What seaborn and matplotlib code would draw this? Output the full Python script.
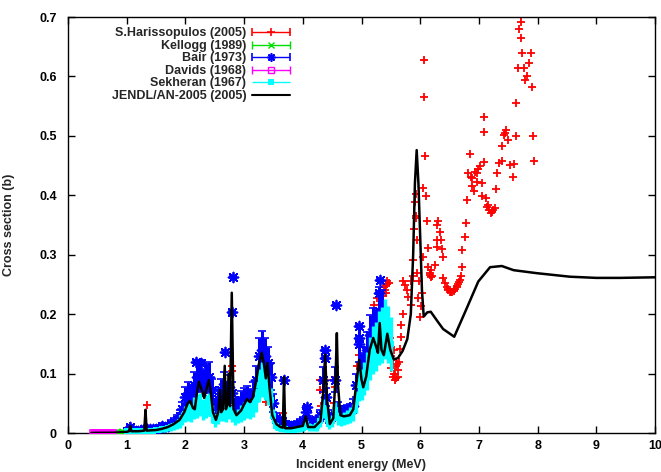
import numpy as np
import matplotlib
matplotlib.use("Agg")
import matplotlib.pyplot as plt
from matplotlib.container import ErrorbarContainer
from matplotlib.legend_handler import HandlerErrorbar
import seaborn as sns
import pandas as pd

# ---------------- data ----------------
# JENDL/AN-2005 evaluation (E in MeV, sigma in b)
jendl_e = [0.40, 0.80, 1.00, 1.04, 1.06, 1.08, 1.20, 1.30, 1.32, 1.34, 1.50, 1.60, 1.70, 1.80,
           1.90, 1.98, 2.04, 2.08, 2.13, 2.16, 2.20, 2.23, 2.27, 2.32, 2.36, 2.40, 2.43, 2.47,
           2.52, 2.56, 2.59, 2.61, 2.64, 2.67, 2.69, 2.72, 2.74, 2.76, 2.79, 2.82, 2.87, 2.95,
           3.00, 3.05, 3.10, 3.15, 3.20, 3.25, 3.30, 3.34, 3.37, 3.40, 3.43, 3.48, 3.55, 3.62,
           3.66, 3.68, 3.70, 3.80, 3.90, 4.00, 4.05, 4.09, 4.20, 4.30, 4.35, 4.38, 4.41, 4.46,
           4.52, 4.56, 4.58, 4.60, 4.64, 4.70, 4.80, 4.86, 4.92, 4.96, 5.00, 5.03, 5.08, 5.14,
           5.20, 5.25, 5.28, 5.31, 5.34, 5.38, 5.44, 5.49, 5.55, 5.62, 5.70, 5.78, 5.84, 5.88,
           5.91, 5.94, 5.97, 6.00, 6.03, 6.06, 6.12, 6.18, 6.28, 6.39, 6.58, 6.78, 6.99, 7.19,
           7.39, 7.59, 7.98, 8.55, 9.00, 9.40, 10.00]
jendl_s = [0.0002, 0.0005, 0.002, 0.003, 0.012, 0.003, 0.003, 0.004, 0.039, 0.004, 0.005, 0.007, 0.010, 0.015,
           0.022, 0.035, 0.050, 0.054, 0.042, 0.040, 0.070, 0.086, 0.075, 0.059, 0.075, 0.089, 0.070, 0.035,
           0.022, 0.035, 0.072, 0.035, 0.040, 0.113, 0.040, 0.050, 0.100, 0.045, 0.236, 0.040, 0.030, 0.038,
           0.048, 0.057, 0.052, 0.060, 0.085, 0.115, 0.135, 0.115, 0.092, 0.118, 0.080, 0.030, 0.015, 0.010,
           0.009, 0.094, 0.008, 0.008, 0.010, 0.012, 0.028, 0.010, 0.010, 0.020, 0.070, 0.132, 0.060, 0.015,
           0.025, 0.100, 0.168, 0.080, 0.030, 0.028, 0.030, 0.040, 0.090, 0.123, 0.090, 0.077, 0.095, 0.140,
           0.160, 0.145, 0.135, 0.185, 0.140, 0.131, 0.167, 0.140, 0.124, 0.126, 0.138, 0.158, 0.200, 0.300,
           0.420, 0.476, 0.420, 0.330, 0.240, 0.196, 0.203, 0.204, 0.190, 0.175, 0.162, 0.207, 0.255, 0.279,
           0.281, 0.274, 0.269, 0.263, 0.261, 0.261, 0.262]

# S.Harissopulos (2005)
har_e = [1.06, 1.25, 1.34, 1.60, 2.79, 2.79, 3.37, 3.67, 4.30, 4.30, 4.31, 4.52, 4.55, 4.53,
         4.75, 4.79, 4.82, 4.85, 4.92, 4.95, 4.97, 5.22, 5.26, 5.27, 5.36, 5.38, 5.40, 5.42, 5.42,
         5.43, 5.44, 5.46, 5.48, 5.50, 5.51, 5.53, 5.54, 5.55, 5.56, 5.57, 5.57, 5.58, 5.59, 5.60,
         5.62, 5.63, 5.64, 5.66, 5.68, 5.68, 5.70, 5.71, 5.74, 5.77, 5.80, 5.84, 5.85, 5.87, 5.88,
         5.89, 5.91, 5.92, 5.92, 5.93, 5.95, 5.95, 5.97, 5.98, 6.00, 6.01, 6.03, 6.04, 6.05, 6.07,
         6.07, 6.09, 6.10, 6.12, 6.13, 6.14, 6.16, 6.17, 6.18, 6.19, 6.20, 6.25, 6.28, 6.29, 6.29,
         6.30, 6.33, 6.36, 6.37, 6.38, 6.39, 6.42, 6.45, 6.47, 6.48, 6.50, 6.52, 6.53, 6.55, 6.57,
         6.58, 6.60, 6.62, 6.63, 6.64, 6.66, 6.68, 6.70, 6.71, 6.72, 6.76, 6.78, 6.80, 6.82, 6.84,
         6.87, 6.89, 6.89, 6.92, 6.93, 6.96, 6.96, 6.99, 7.02, 7.05, 7.05, 7.09, 7.09, 7.09, 7.12,
         7.14, 7.16, 7.18, 7.20, 7.22, 7.24, 7.27, 7.29, 7.30, 7.35, 7.39, 7.40, 7.42, 7.44, 7.46,
         7.50, 7.53, 7.58, 7.59, 7.63, 7.64, 7.66, 7.68, 7.71, 7.72, 7.74, 7.77, 7.79, 7.82, 7.86,
         7.88, 7.90, 7.92, 7.94]
har_s = [0.011, 0.004, 0.047, 0.012, 0.112, 0.104, 0.053, 0.033, 0.089, 0.072, 0.046, 0.089, 0.077, 0.050,
         0.035, 0.030, 0.040, 0.033, 0.112, 0.131, 0.100, 0.215, 0.201, 0.227, 0.230, 0.245, 0.240, 0.236, 0.249,
         0.250, 0.255, 0.252, 0.160, 0.130, 0.110, 0.123, 0.095, 0.100, 0.140, 0.100, 0.089, 0.092, 0.112, 0.116,
         0.095, 0.106, 0.120, 0.141, 0.162, 0.182, 0.201, 0.255, 0.249, 0.241, 0.229, 0.215, 0.255, 0.264, 0.291,
         0.344, 0.388, 0.402, 0.365, 0.361, 0.325, 0.270, 0.227, 0.255, 0.196, 0.213, 0.235, 0.296, 0.412, 0.628,
         0.565, 0.466, 0.399, 0.357, 0.312, 0.280, 0.270, 0.266, 0.262, 0.275, 0.265, 0.283, 0.350, 0.325, 0.313,
         0.356, 0.339, 0.325, 0.309, 0.296, 0.260, 0.252, 0.245, 0.242, 0.240, 0.238, 0.237, 0.237, 0.238, 0.239,
         0.240, 0.243, 0.246, 0.248, 0.250, 0.254, 0.257, 0.265, 0.280, 0.308, 0.329, 0.353, 0.392, 0.438, 0.469,
         0.430, 0.429, 0.416, 0.408, 0.440, 0.437, 0.423, 0.445, 0.450, 0.421, 0.398, 0.456, 0.531, 0.507, 0.395,
         0.380, 0.384, 0.375, 0.370, 0.372, 0.376, 0.378, 0.411, 0.437, 0.454, 0.457, 0.483, 0.501, 0.505, 0.510,
         0.493, 0.451, 0.431, 0.452, 0.499, 0.555, 0.614, 0.680, 0.691, 0.664, 0.639, 0.614, 0.594, 0.600, 0.623,
         0.640, 0.583, 0.500, 0.458]

# Kellogg (1989)
kel_e = [0.76, 0.78, 0.80, 0.82, 0.84, 0.86, 0.88, 0.90, 0.92, 0.94]
kel_s = [0.0005, 0.0005, 0.0006, 0.0006, 0.0007, 0.0007, 0.0008, 0.0008, 0.0009, 0.0010]
kel_err = [0.0005, 0.0005, 0.0005, 0.0005, 0.0005, 0.0005, 0.0005, 0.0005, 0.0005, 0.0005]

# Bair (1973)
bair_e = [1.00, 1.05, 1.10, 1.15, 1.20, 1.25, 1.30, 1.35, 1.40, 1.45, 1.50, 1.55, 1.60, 1.65,
          1.70, 1.75, 1.80, 1.85, 1.90, 1.95, 2.00, 2.05, 2.10, 2.15, 2.20, 2.25, 2.30, 2.35,
          2.40, 2.45, 2.50, 2.55, 2.60, 2.65, 2.70, 2.75, 2.80, 2.85, 2.90, 2.95, 3.00, 3.05,
          3.10, 3.15, 3.20, 3.25, 3.30, 3.35, 3.40, 3.45, 3.50, 3.55, 3.60, 3.65, 3.70, 3.75,
          3.80, 3.85, 3.90, 3.95, 4.00, 4.05, 4.10, 4.15, 4.20, 4.25, 4.30, 4.35, 4.40, 4.45,
          4.50, 4.55, 4.60, 4.65, 4.70, 4.75, 4.80, 4.85, 4.90, 4.95, 5.00, 5.05, 5.10, 5.15,
          5.20, 5.25, 5.30, 5.35,
          2.81, 2.80, 2.67, 4.57, 5.31, 5.30, 4.38, 4.38, 4.96, 4.96, 3.68, 4.08, 2.18, 2.27]
bair_s = [0.004, 0.010, 0.005, 0.004, 0.004, 0.005, 0.006, 0.007, 0.006, 0.006, 0.007, 0.009, 0.012, 0.010,
          0.012, 0.015, 0.018, 0.022, 0.028, 0.040, 0.060, 0.068, 0.062, 0.080, 0.095, 0.097, 0.085, 0.092,
          0.095, 0.072, 0.045, 0.058, 0.072, 0.082, 0.068, 0.078, 0.068, 0.045, 0.045, 0.055, 0.060, 0.063,
          0.058, 0.068, 0.090, 0.130, 0.140, 0.130, 0.118, 0.095, 0.050, 0.025, 0.018, 0.020, 0.015, 0.012,
          0.012, 0.012, 0.014, 0.016, 0.020, 0.035, 0.022, 0.018, 0.018, 0.020, 0.030, 0.090, 0.060, 0.025,
          0.030, 0.090, 0.040, 0.033, 0.035, 0.037, 0.038, 0.045, 0.080, 0.150, 0.110, 0.120, 0.140, 0.165,
          0.175, 0.172, 0.205, 0.200,
          0.262, 0.203, 0.137, 0.215, 0.257, 0.236, 0.140, 0.126, 0.180, 0.160, 0.089, 0.044, 0.120, 0.118]
bair_err = [0.004, 0.004, 0.004, 0.004, 0.004, 0.004, 0.004, 0.004, 0.004, 0.004, 0.004, 0.005, 0.005, 0.005,
            0.005, 0.007, 0.007, 0.008, 0.010, 0.013, 0.018, 0.018, 0.018, 0.022, 0.026, 0.026, 0.022, 0.024,
            0.024, 0.019, 0.013, 0.016, 0.019, 0.021, 0.018, 0.019, 0.018, 0.013, 0.013, 0.015, 0.016, 0.016,
            0.016, 0.018, 0.022, 0.030, 0.031, 0.030, 0.027, 0.022, 0.015, 0.009, 0.007, 0.007, 0.006, 0.006,
            0.006, 0.006, 0.006, 0.007, 0.007, 0.010, 0.007, 0.007, 0.007, 0.007, 0.009, 0.021, 0.015, 0.009,
            0.009, 0.021, 0.012, 0.010, 0.010, 0.010, 0.010, 0.012, 0.019, 0.030, 0.024, 0.025, 0.030, 0.034,
            0.036, 0.036, 0.040, 0.040,
            0.002, 0.002, 0.002, 0.002, 0.002, 0.002, 0.002, 0.002, 0.002, 0.002, 0.002, 0.002, 0.002, 0.002]

# Davids (1968)
dav_e = [0.43, 0.46, 0.49, 0.52, 0.55, 0.58, 0.61, 0.64, 0.67, 0.70, 0.73, 0.76]
dav_s = [0.0003, 0.0003, 0.0003, 0.0004, 0.0004, 0.0004, 0.0004, 0.0005, 0.0005, 0.0005, 0.0006, 0.0006]
dav_err = [0.0004, 0.0004, 0.0004, 0.0004, 0.0004, 0.0004, 0.0004, 0.0004, 0.0004, 0.0004, 0.0004, 0.0004]

# Sekheran (1967)
sek_e = [1.00, 1.05, 1.10, 1.15, 1.20, 1.25, 1.30, 1.35, 1.40, 1.45, 1.50, 1.55, 1.60, 1.65,
         1.70, 1.75, 1.80, 1.85, 1.90, 1.95, 2.00, 2.05, 2.10, 2.15, 2.20, 2.25, 2.30, 2.35,
         2.40, 2.45, 2.50, 2.55, 2.60, 2.65, 2.70, 2.75, 2.80, 2.85, 2.90, 2.95, 3.00, 3.05,
         3.10, 3.15, 3.20, 3.25, 3.30, 3.35, 3.40, 3.45, 3.50, 3.55, 3.60, 3.65, 3.70, 3.75,
         3.80, 3.85, 3.90, 3.95, 4.00, 4.05, 4.10, 4.15, 4.20, 4.25, 4.30, 4.35, 4.40, 4.45,
         4.50, 4.55, 4.60, 4.65, 4.70, 4.75, 4.80, 4.85, 4.90, 4.95, 5.00, 5.05, 5.10, 5.15,
         5.20, 5.25, 5.30, 5.35, 5.40, 5.45, 5.50]
sek_s = [0.003, 0.003, 0.003, 0.003, 0.003, 0.003, 0.003, 0.004, 0.004, 0.004, 0.005, 0.005, 0.006, 0.007,
         0.008, 0.010, 0.012, 0.014, 0.018, 0.025, 0.032, 0.036, 0.034, 0.042, 0.045, 0.048, 0.040, 0.045,
         0.048, 0.032, 0.020, 0.027, 0.035, 0.036, 0.032, 0.040, 0.032, 0.024, 0.028, 0.033, 0.037, 0.040,
         0.038, 0.043, 0.055, 0.080, 0.090, 0.082, 0.072, 0.055, 0.028, 0.012, 0.008, 0.007, 0.006, 0.005,
         0.005, 0.005, 0.006, 0.007, 0.009, 0.015, 0.010, 0.009, 0.009, 0.011, 0.020, 0.042, 0.033, 0.015,
         0.020, 0.038, 0.025, 0.022, 0.025, 0.027, 0.030, 0.035, 0.052, 0.080, 0.082, 0.092, 0.105, 0.125,
         0.140, 0.145, 0.160, 0.165, 0.175, 0.165, 0.150]
sek_err = [0.003, 0.003, 0.003, 0.003, 0.003, 0.003, 0.003, 0.003, 0.003, 0.003, 0.004, 0.004, 0.004, 0.005,
           0.005, 0.006, 0.007, 0.008, 0.009, 0.011, 0.014, 0.015, 0.015, 0.018, 0.020, 0.020, 0.018, 0.019,
           0.020, 0.015, 0.010, 0.012, 0.015, 0.015, 0.014, 0.016, 0.014, 0.011, 0.012, 0.014, 0.015, 0.015,
           0.015, 0.016, 0.020, 0.027, 0.030, 0.027, 0.025, 0.020, 0.012, 0.007, 0.005, 0.005, 0.005, 0.004,
           0.004, 0.004, 0.005, 0.005, 0.006, 0.008, 0.006, 0.006, 0.006, 0.007, 0.010, 0.016, 0.014, 0.008,
           0.010, 0.015, 0.011, 0.010, 0.011, 0.012, 0.013, 0.014, 0.019, 0.026, 0.026, 0.028, 0.032, 0.036,
           0.040, 0.041, 0.045, 0.047, 0.050, 0.048, 0.045]

labels = ["S.Harissopulos (2005)", "Kellogg (1989)", "Bair (1973)", "Davids (1968)",
          "Sekheran (1967)", "JENDL/AN-2005 (2005)"]
x_ticks = [0, 1, 2, 3, 4, 5, 6, 7, 8, 9, 10]
y_ticks = [0, 0.1, 0.2, 0.3, 0.4, 0.5, 0.6, 0.7]
y_ticklabels = ["0", "0.1", "0.2", "0.3", "0.4", "0.5", "0.6", "0.7"]

# ---------------- style ----------------
sns.set_theme(style="ticks")
plt.rcParams['font.family'] = ['Liberation Sans', 'DejaVu Sans']
plt.rcParams['font.weight'] = 'bold'
plt.rcParams['font.size'] = 9

RED, GREEN, BLUE, MAG, CYAN = "#ff0000", "#00e000", "#0000ff", "#ff00ff", "#00ffff"
ASTER = (8, 2, 0)

fig = plt.figure(figsize=(6.61, 4.72), dpi=100)
ax = fig.add_axes([68 / 661, 1 - 433 / 472, (655 - 68) / 661, (433 - 17) / 472])

# S.Harissopulos
har_df = pd.DataFrame({"E": har_e, "s": har_s})
sns.scatterplot(data=har_df, x="E", y="s", marker="+", s=40, color=RED, linewidth=1.3, ax=ax, zorder=2)

# Kellogg
ax.errorbar(kel_e, kel_s, yerr=kel_err, fmt="x", color=GREEN, ms=4.5, mew=1.2, elinewidth=1,
            capsize=2.5, zorder=3)
# Bair
ax.errorbar(bair_e, bair_s, yerr=bair_err, fmt="none", ecolor=BLUE, elinewidth=2.2,
            capsize=3, capthick=1.2, zorder=3)
bair_df = pd.DataFrame({"E": bair_e, "s": bair_s})
sns.scatterplot(data=bair_df, x="E", y="s", marker=ASTER, s=50, color=BLUE, edgecolor=BLUE,
                linewidth=1.3, ax=ax, zorder=3)
# Davids
ax.errorbar(dav_e, dav_s, yerr=dav_err, fmt="s", color=MAG, mfc="none", ms=5, mew=1.2,
            elinewidth=1, capsize=2.5, zorder=4)
# Sekheran
ax.errorbar(sek_e, sek_s, yerr=sek_err, fmt="s", color=CYAN, ms=4.5, mew=0, elinewidth=2.4,
            capsize=3, capthick=1.3, zorder=5)
# JENDL
jendl_df = pd.DataFrame({"E": jendl_e, "s": jendl_s})
sns.lineplot(data=jendl_df, x="E", y="s", color="black", linewidth=1.8, sort=False,
             estimator=None, ax=ax, zorder=6)

ax.set_xlim(0, 10)
ax.set_ylim(0, 0.7)
ax.set_xticks(x_ticks)
ax.set_xticklabels([str(t) for t in x_ticks])
ax.set_yticks(y_ticks)
ax.set_yticklabels(y_ticklabels)
ax.tick_params(direction="in", length=5, width=1, top=True, right=True, colors="black",
               labelsize=9)
ax.tick_params(axis="x", pad=5)
ax.tick_params(axis="y", pad=8)
for sp in ax.spines.values():
    sp.set_visible(True)
    sp.set_linewidth(1.0)
    sp.set_color("black")

ax.set_xlabel("Incident energy (MeV)", fontsize=9, fontweight="bold")
ax.set_ylabel("Cross section (b)", fontsize=9, fontweight="bold")
ax.xaxis.set_label_coords(0.5, -0.062)
ax.yaxis.set_label_coords(-0.09, 0.5)

# legend handles in gnuplot style (horizontal errorbar samples)
h_har = ax.errorbar([np.nan], [np.nan], xerr=[1], fmt="+", color=RED, ms=6, mew=1.2, capsize=3, elinewidth=1)
h_kel = ax.errorbar([np.nan], [np.nan], xerr=[1], fmt="x", color=GREEN, ms=4, mew=1, capsize=3, elinewidth=1)
h_bair = ax.errorbar([np.nan], [np.nan], xerr=[1], fmt=" ", marker=ASTER, color=BLUE, ms=6, mew=1.2,
                     capsize=3, elinewidth=1)
h_dav = ax.errorbar([np.nan], [np.nan], xerr=[1], fmt="s", color=MAG, mfc="none", ms=4, mew=1, capsize=3, elinewidth=1)
h_sek = ax.errorbar([np.nan], [np.nan], xerr=[1], fmt="s", color=CYAN, ms=4, mew=0, capsize=3, elinewidth=1)
h_j = ax.plot([np.nan], [np.nan], color="black", lw=1.5)[0]

leg = ax.legend([h_har, h_kel, h_bair, h_dav, h_sek, h_j], labels,
                loc="upper right", bbox_to_anchor=(0.378, 0.975), frameon=False,
                markerfirst=False, handlelength=3.0, handletextpad=0.5, labelspacing=0.04,
                borderpad=0, borderaxespad=0, prop={"weight": "bold", "size": 9},
                handler_map={ErrorbarContainer: HandlerErrorbar(xerr_size=1.5)})

fig.savefig("out.png", dpi=100)
